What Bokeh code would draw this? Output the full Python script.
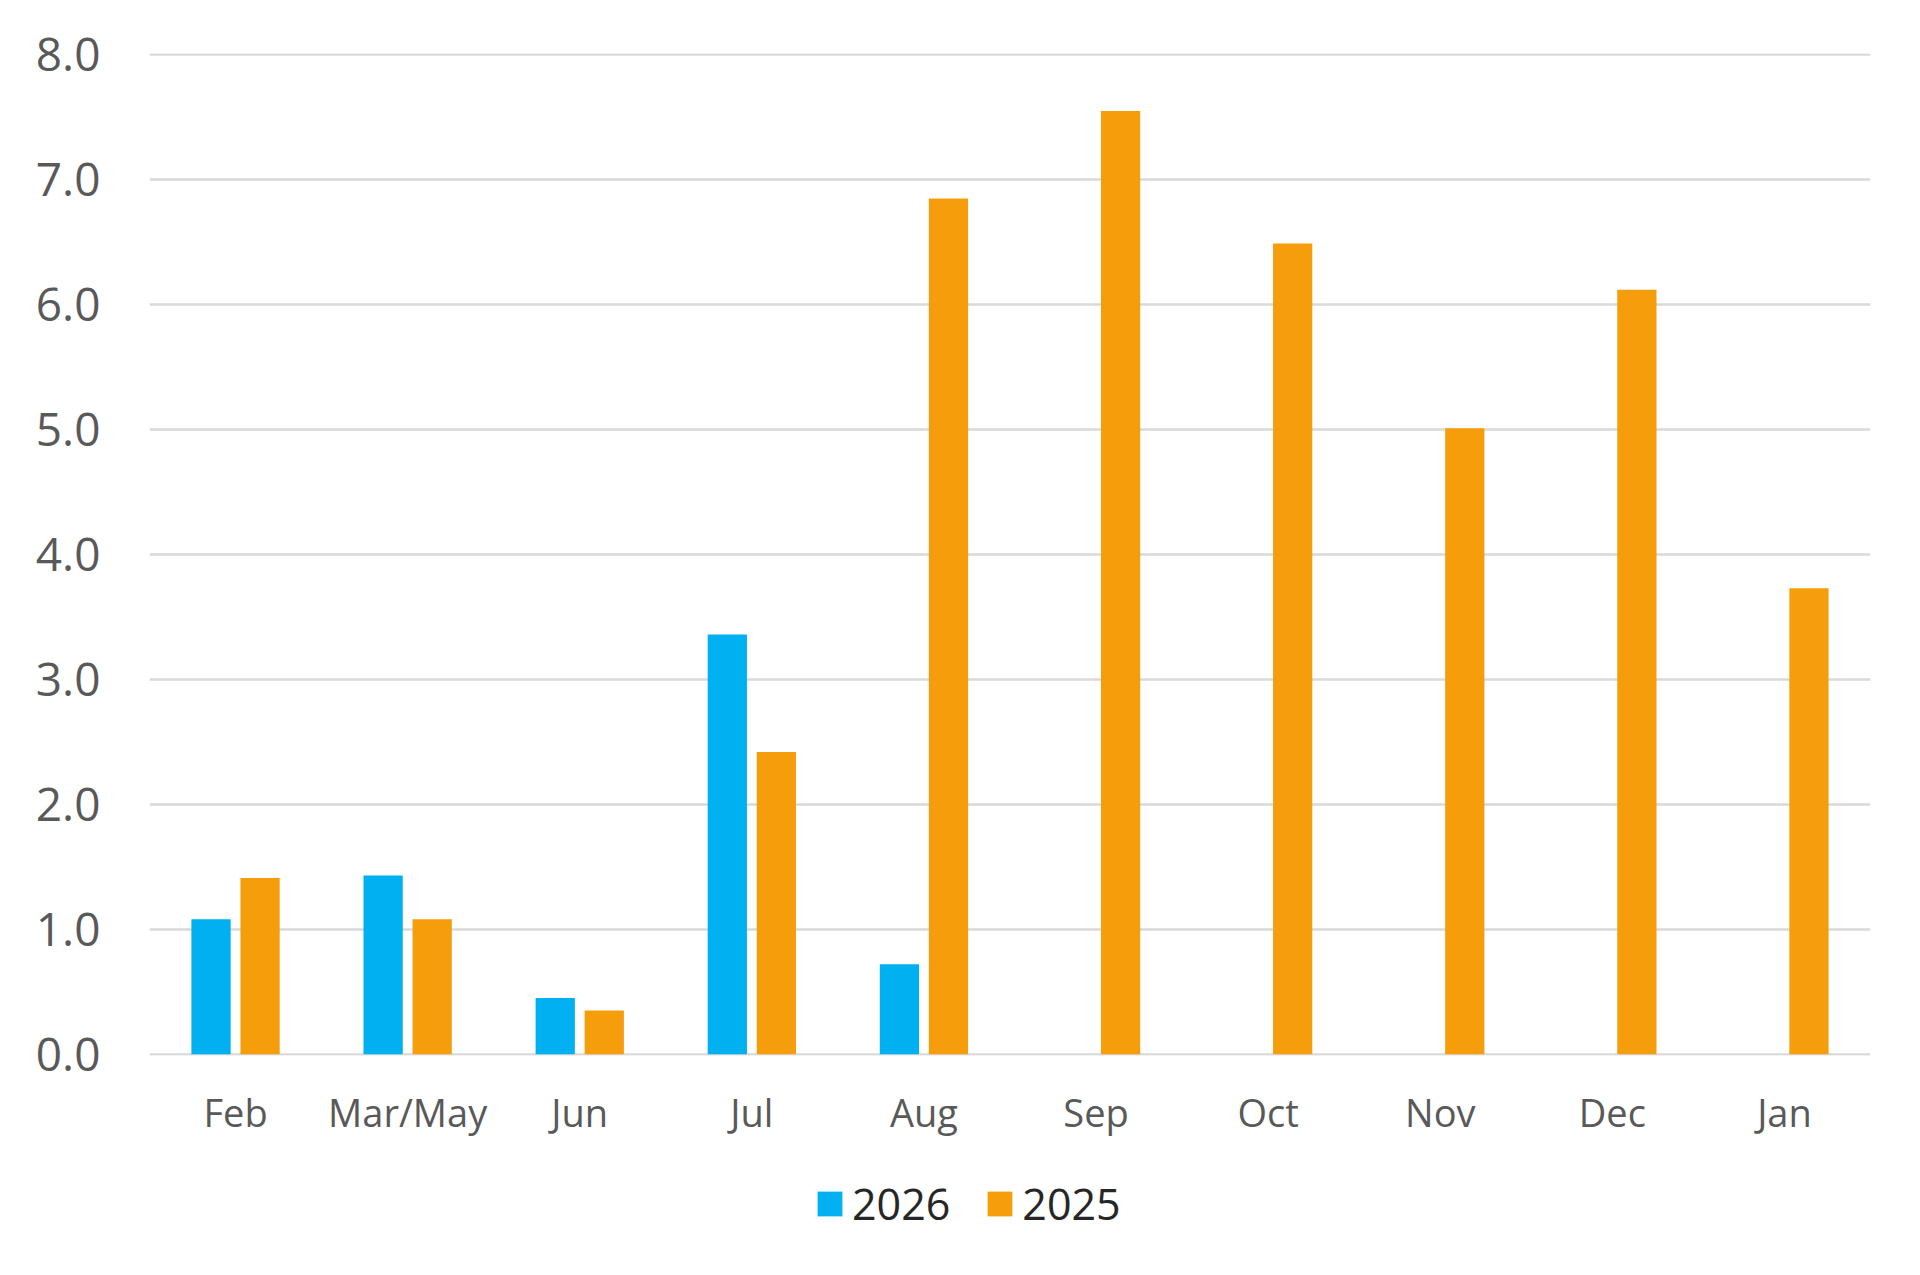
import math
from bokeh.plotting import figure
from bokeh.layouts import column
from bokeh.models import ColumnDataSource, FactorRange, Range1d, FixedTicker, Legend, LegendItem
from bokeh.transform import dodge
from bokeh.embed import file_html
from bokeh.resources import INLINE

categories = ["Feb", "Mar/May", "Jun", "Jul", "Aug", "Sep", "Oct", "Nov", "Dec", "Jan"]
values_2026 = [1.08, 1.43, 0.45, 3.36, 0.72, math.nan, math.nan, math.nan, math.nan, math.nan]
values_2025 = [1.41, 1.08, 0.35, 2.42, 6.85, 7.55, 6.49, 5.01, 6.12, 3.73]
series_names = ["2026", "2025"]
series_colors = ["#00B0F0", "#F59D0B"]
y_ticks = [0, 1, 2, 3, 4, 5, 6, 7, 8]
y_tick_labels = ["0.0", "1.0", "2.0", "3.0", "4.0", "5.0", "6.0", "7.0", "8.0"]

FONT = "Open Sans"

source = ColumnDataSource(data=dict(cat=categories, v2026=values_2026, v2025=values_2025))

p = figure(
    x_range=FactorRange(*categories),
    y_range=Range1d(-0.01, 8.01),
    width=1904, height=1150,
    min_border_left=149, min_border_right=34, min_border_top=53, min_border_bottom=95,
    output_backend="svg", toolbar_location=None,
)
p.x_range.range_padding = 0
p.outline_line_color = None
p.background_fill_color = "white"
p.border_fill_color = "white"

bw = 0.228
off = 0.1425
r1 = p.vbar(x=dodge("cat", -off, range=p.x_range), top="v2026", width=bw, bottom=0,
            source=source, fill_color=series_colors[0], line_color=None)
r2 = p.vbar(x=dodge("cat", off, range=p.x_range), top="v2025", width=bw, bottom=0,
            source=source, fill_color=series_colors[1], line_color=None)

# grid
p.xgrid.grid_line_color = None
p.ygrid.ticker = FixedTicker(ticks=y_ticks)
p.ygrid.grid_line_color = "#D9D9D9"
p.ygrid.grid_line_width = 2.5
p.ygrid.level = "underlay"

# y axis
p.yaxis.ticker = FixedTicker(ticks=y_ticks)
p.yaxis.major_label_overrides = {t: lab for t, lab in zip(y_ticks, y_tick_labels)}
p.yaxis.axis_line_color = None
p.yaxis.major_tick_line_color = None
p.yaxis.minor_tick_line_color = None
p.yaxis.major_label_text_font = FONT
p.yaxis.major_label_text_font_size = "46px"
p.yaxis.major_label_text_color = "#595959"
p.yaxis.major_label_standoff = 43

# x axis
p.xaxis.axis_line_color = None
p.xaxis.major_tick_line_color = None
p.xaxis.minor_tick_line_color = None
p.xaxis.major_label_text_font = FONT
p.xaxis.major_label_text_font_size = "38px"
p.xaxis.major_label_text_color = "#595959"
p.xaxis.major_label_standoff = 24

# legend strip below the chart (same series, drawn outside its visible range)
lf = figure(width=1904, height=109, x_range=FactorRange(*categories), y_range=Range1d(100, 101),
            min_border=0, output_backend="svg", toolbar_location=None)
lf.outline_line_color = None
lf.axis.visible = False
lf.grid.visible = False
lf.background_fill_color = "white"
lf.border_fill_color = "white"
la = lf.vbar(x="cat", top="v2026", width=bw, bottom=0, source=source,
             fill_color=series_colors[0], line_color=None)
lb = lf.vbar(x="cat", top="v2025", width=bw, bottom=0, source=source,
             fill_color=series_colors[1], line_color=None)

legend = Legend(
    items=[LegendItem(label=series_names[0], renderers=[la]),
           LegendItem(label=series_names[1], renderers=[lb])],
    orientation="horizontal",
    location=(665, 26),
    glyph_width=31, glyph_height=31,
    label_standoff=7, spacing=34, padding=0, margin=0,
    border_line_color=None, background_fill_alpha=0,
    label_text_font=FONT, label_text_font_size="43px", label_text_color="#262626",
)
lf.add_layout(legend, "center")

layout = column(p, lf, spacing=0)
open("out.html", "w").write(file_html(layout, INLINE))
